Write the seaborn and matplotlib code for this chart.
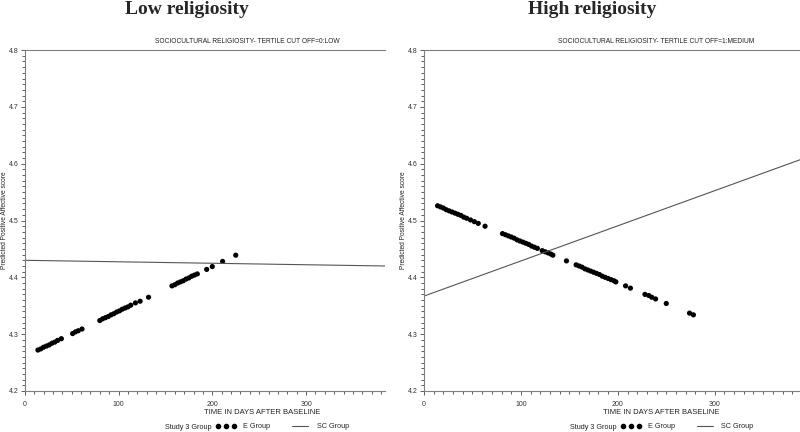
import pandas as pd
import seaborn as sns
import matplotlib.pyplot as plt
from matplotlib.lines import Line2D
from matplotlib.ticker import MultipleLocator

# E group predictions, low religiosity panel
low_e_days = [14, 17, 20, 23, 26, 29, 32, 35, 39, 51, 54, 57, 61,
              80, 83, 86, 89, 92, 95, 98, 101, 104, 107, 110, 113, 118, 123, 132,
              157, 160, 163, 166, 169, 172, 175, 178, 181, 184, 194, 200, 211, 225]
low_e_score = [4.272, 4.274, 4.277, 4.279, 4.281, 4.284, 4.286, 4.289, 4.292, 4.301, 4.304, 4.306, 4.309,
               4.324, 4.327, 4.329, 4.331, 4.334, 4.336, 4.339, 4.341, 4.344, 4.346, 4.348, 4.351,
               4.355, 4.358, 4.365,
               4.385, 4.387, 4.390, 4.392, 4.394, 4.397, 4.399, 4.402, 4.404, 4.406,
               4.414, 4.419, 4.428, 4.439]

# E group predictions, high religiosity panel
high_e_days = [14, 17, 20, 23, 26, 29, 32, 35, 38, 41, 44, 48, 52, 56, 63,
               81, 84, 87, 90, 93, 96, 99, 102, 105, 108, 111, 114, 117,
               122, 125, 128, 131, 133, 147,
               157, 160, 163, 166, 169, 172, 175, 178, 181, 184, 187, 190, 193, 196, 198,
               208, 213, 228, 232, 235, 239, 250, 274, 278]
high_e_score = [4.526, 4.524, 4.522, 4.519, 4.517, 4.515, 4.513, 4.511, 4.509, 4.506, 4.504, 4.501,
                4.498, 4.495, 4.490,
                4.477, 4.475, 4.473, 4.471, 4.469, 4.466, 4.464, 4.462, 4.460, 4.458, 4.455, 4.453, 4.451,
                4.447, 4.445, 4.443, 4.441, 4.439, 4.429,
                4.422, 4.420, 4.418, 4.415, 4.413, 4.411, 4.409, 4.407, 4.405, 4.402, 4.400, 4.398,
                4.396, 4.394, 4.392,
                4.385, 4.381, 4.370, 4.368, 4.365, 4.362, 4.354, 4.337, 4.334]

# SC group fitted lines
low_sc_days = [0, 384]
low_sc_score = [4.430, 4.420]
high_sc_days = [0, 388]
high_sc_score = [4.367, 4.607]

panel_titles = ["Low religiosity", "High religiosity"]
subtitles = ["SOCIOCULTURAL RELIGIOSITY- TERTILE CUT OFF=0:LOW",
             "SOCIOCULTURAL RELIGIOSITY- TERTILE CUT OFF=1:MEDIUM"]

sns.set_theme(style="ticks")
plt.rcParams['font.family'] = ['Liberation Sans', 'DejaVu Sans']

fig = plt.figure(figsize=(8, 4.32), dpi=100)
axes = [fig.add_axes([0.031, 0.095, 0.45, 0.789]),
        fig.add_axes([0.530, 0.095, 0.47, 0.789])]

panels = [
    (low_e_days, low_e_score, low_sc_days, low_sc_score, 384),
    (high_e_days, high_e_score, high_sc_days, high_sc_score, 388),
]

grey = "#7f7f7f"
for i, (ax, (ed, es, sd, ss, xmax)) in enumerate(zip(axes, panels)):
    e_df = pd.DataFrame({"day": ed, "score": es})
    sc_df = pd.DataFrame({"day": sd, "score": ss})
    sns.lineplot(data=sc_df, x="day", y="score", ax=ax, color="#555555",
                 linewidth=0.8, estimator=None)
    sns.scatterplot(data=e_df, x="day", y="score", ax=ax, color="black",
                    s=14, edgecolor="none")
    ax.set_xlim(0, xmax)
    ax.set_ylim(4.2, 4.8)
    ax.xaxis.set_major_locator(MultipleLocator(100))
    ax.xaxis.set_minor_locator(MultipleLocator(10))
    ax.yaxis.set_major_locator(MultipleLocator(0.1))
    ax.yaxis.set_minor_locator(MultipleLocator(0.01))
    ax.tick_params(which="major", length=3, width=0.6, color="#444444",
                   labelsize=5, pad=1.5, labelcolor="#333333")
    ax.tick_params(which="minor", length=2, width=0.6, color="#444444")
    ax.tick_params(axis="x", which="major", pad=4)
    ax.set_xlabel("")
    ax.set_ylabel("")
    for side in ["left", "bottom", "top"]:
        ax.spines[side].set_color(grey)
        ax.spines[side].set_linewidth(0.8)
    ax.spines["right"].set_visible(False)

# Titles, subtitles, axis labels
title_x = [0.234, 0.740]
sub_x = [0.309, 0.820]
xlab_x = [0.3275, 0.826]
ylab_x = [0.006, 0.5045]
leg_x = [0.206, 0.712]
for i in range(2):
    fig.text(title_x[i], 0.978, panel_titles[i], ha="center", va="center",
             fontsize=14, fontweight="bold", family="Liberation Serif")
    fig.text(sub_x[i], 0.903, subtitles[i], ha="center", va="center",
             fontsize=4.8, color="#222222")
    fig.text(xlab_x[i], 0.044, "TIME IN DAYS AFTER BASELINE", ha="center",
             va="center", fontsize=5.5, color="#222222")
    fig.text(ylab_x[i], 0.49, "Predicted Positive Affective score", ha="center",
             va="center", rotation=90, fontsize=4.8, color="#222222")
    fig.text(leg_x[i], 0.010, "Study 3 Group", ha="left", va="center",
             fontsize=5.2, color="#222222")
    handles = [Line2D([], [], marker="o", ls="none", color="black", markersize=3),
               Line2D([], [], color="#555555", lw=0.8)]
    fig.legend(handles, ["E Group", "SC Group"], ncol=2, frameon=False,
               loc="center left", bbox_to_anchor=(leg_x[i] + 0.064, 0.012),
               numpoints=3, handlelength=2.8, fontsize=5.2, columnspacing=2.8,
               handletextpad=0.9, borderpad=0, borderaxespad=0)

fig.savefig("out.png", dpi=100)
